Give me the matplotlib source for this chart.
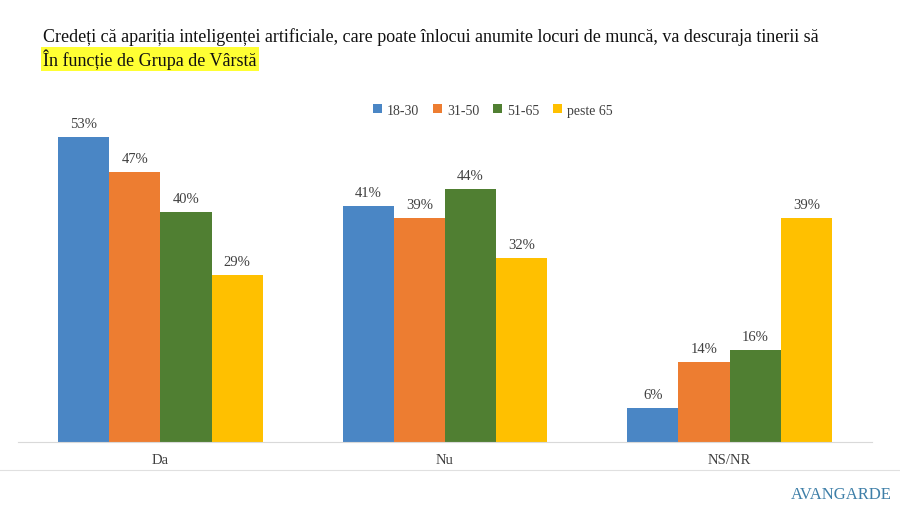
import matplotlib.pyplot as plt
import numpy as np

categories = ["Da", "Nu", "NS/NR"]
groups = ["18-30", "31-50", "51-65", "peste 65"]
values = {
    "18-30": [53, 41, 6],
    "31-50": [47, 39, 14],
    "51-65": [40, 44, 16],
    "peste 65": [29, 32, 39],
}
colors = ["#4A86C5", "#ED7D31", "#507F32", "#FFC000"]

title = "Credeți că apariția inteligenței artificiale, care poate înlocui anumite locuri de muncă, va descuraja tinerii să"
subtitle = "În funcție de Grupa de Vârstă"

plt.rcParams['font.family'] = ['Liberation Serif', 'DejaVu Serif']

fig = plt.figure(figsize=(9, 5.06), dpi=100)
ax = fig.add_axes([18 / 900, 1 - 443 / 506, 854 / 900, 345 / 506])

x = np.arange(len(categories))
w = 0.18
for i, g in enumerate(groups):
    pos = x + (i - 1.5) * w
    ax.bar(pos, values[g], width=w, color=colors[i], label=g, zorder=2)
    for xp, v in zip(pos, values[g]):
        ax.text(xp, v + 1.2, f"{v}%", ha='center', va='bottom', fontsize=10.5, color='#404040')

ax.set_xlim(-0.5, 2.5)
ax.set_ylim(0, 60)
ax.set_yticks([])
ax.set_xticks(x)
ax.set_xticklabels(categories, fontsize=10.5, color='#404040')
ax.tick_params(axis='x', length=0, pad=8)
for s in ['top', 'right', 'left']:
    ax.spines[s].set_visible(False)
ax.spines['bottom'].set_color('#d9d9d9')

ax.legend(loc='center', bbox_to_anchor=(493 / 854 - 18 / 854, 1 - (111 - 98) / 345), ncol=4, frameon=False,
          fontsize=10, handlelength=0.6, handleheight=0.6, handletextpad=0.4,
          columnspacing=1.0, labelcolor='#404040')

fig.text(43 / 900, 1 - 37 / 506, title, fontsize=13, va='center', ha='left', color='#111111')
fig.text(43 / 900, 1 - 60 / 506, subtitle, fontsize=13, va='center', ha='left', color='#111111',
         bbox=dict(facecolor='#FFFF33', edgecolor='none', pad=1.5))

fig.add_artist(plt.Line2D([0, 1], [1 - 471 / 506, 1 - 471 / 506], color='#e0e0e0', lw=0.8))
fig.text(841 / 900, 1 - 495 / 506, "AVANGARDE", fontsize=12, ha='center', va='center', color='#3E7FA8')

fig.savefig("out.png", dpi=100)
